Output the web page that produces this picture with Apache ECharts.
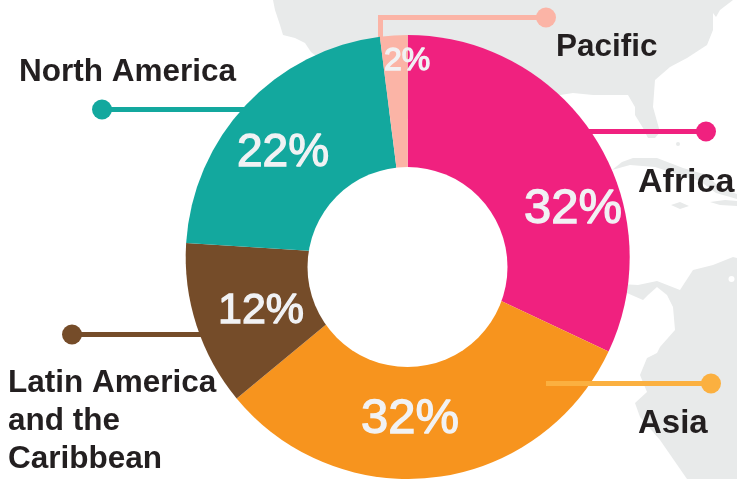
<!DOCTYPE html>
<html>
<head>
<meta charset="utf-8">
<title>Regions</title>
<script src="https://cdn.jsdelivr.net/npm/echarts@6/dist/echarts.min.js"></script>
<style>
  html, body { margin: 0; padding: 0; background: #fff; }
  #chart { width: 737px; height: 479px; }
</style>
</head>
<body>
<div id="chart"></div>
<script>
const categories = ['Africa', 'Asia', 'Latin America\nand the\nCaribbean', 'North America', 'Pacific'];
const shares = [32, 32, 12, 22, 2];

const sliceColors = ['#f0217f', '#f7941e', '#754c29', '#13a89e', '#fbb4a6'];
const lineColors = ['#f0217f', '#fbb040', '#754c29', '#13a89e', '#fbb4a6'];
const percentFontSizes = [49, 49, 43, 46, 32];
const percentCenters = [[573, 209], [410, 419], [261, 311], [283, 153], [407, 61]];
const nameFontSizes = [34, 33, 31.5, 31.5, 31.5];
const nameAnchors = [[638, 191], [638, 432], [8, 391], [19, 80], [556, 55]];
// leader lines, the dot sits on the last point
const leaders = [
  [[585, 131.5], [706, 131.5]],
  [[546, 383.5], [711, 383.5]],
  [[210, 334.5], [72, 334.5]],
  [[255, 109.5], [102, 109.5]],
  [[380.5, 40], [380.5, 17.5], [546, 17.5]]
];

// grey map behind the pie
const mapColor = '#e8eaea';
const landNorth = [[273, 0], [275, 10], [280, 25], [283, 35], [295, 38], [305, 43], [311, 52], [400, 120], [573, 93], [593, 95], [617, 95], [628, 95], [635, 107], [635, 115], [643, 128], [648, 138], [655, 138], [660, 132], [653, 107], [655, 80], [670, 67], [687, 58], [707, 45], [713, 30], [713, 13], [716, 17], [720, 10], [733, 0]];
const landSouth = [[620, 284], [638, 285], [657, 281], [680, 290], [693, 270], [713, 265], [733, 257], [737, 258], [737, 479], [687, 479], [660, 440], [640, 417], [635, 403], [647, 392], [640, 375], [647, 358], [657, 353], [660, 347], [675, 330], [673, 307], [667, 295], [657, 287], [648, 295], [643, 300], [620, 290]];
const landCuba = [[612, 170], [622, 162], [633, 158], [657, 158], [683, 168], [707, 175], [720, 188], [737, 194], [737, 199], [716, 193], [700, 181], [680, 175], [655, 167], [630, 165]];
const landIsland1 = [[671, 205], [680, 202], [689, 206], [680, 209]];
const landIsland2 = [[710, 202], [725, 200], [737, 201], [737, 206], [720, 205]];

const chart = echarts.init(document.getElementById('chart'));

const graphics = [];
[landNorth, landSouth, landCuba, landIsland1, landIsland2].forEach(function (points) {
  graphics.push({ type: 'polygon', z: 0, shape: { points: points }, style: { fill: mapColor } });
});
graphics.push({ type: 'circle', z: 1, shape: { cx: 731.5, cy: 279, r: 3 }, style: { fill: '#fff' } });
graphics.push({ type: 'circle', z: 0, shape: { cx: 678, cy: 144, r: 2 }, style: { fill: mapColor } });

// the hole sits a bit lower than the pie centre in the original
graphics.push({ type: 'circle', z: 5, shape: { cx: 407.5, cy: 267, r: 100 }, style: { fill: '#fff' } });

categories.forEach(function (name, i) {
  const points = leaders[i];
  const last = points[points.length - 1];
  // only the Asia line runs on top of its slice
  const z = i === 1 ? 6 : 1;
  graphics.push({ type: 'polyline', z: z, shape: { points: points }, style: { stroke: lineColors[i], lineWidth: 5, fill: null } });
  graphics.push({ type: 'circle', z: z, shape: { cx: last[0], cy: last[1], r: 10 }, style: { fill: lineColors[i] } });
  graphics.push({
    type: 'text',
    z: 6,
    x: nameAnchors[i][0],
    y: nameAnchors[i][1] - 27,
    style: {
      text: name,
      fill: '#231f20',
      font: 'bold ' + nameFontSizes[i] + 'px "Liberation Sans", Arial, sans-serif',
      lineHeight: 38
    }
  });
});

chart.setOption({
  animation: false,
  backgroundColor: '#fff',
  color: sliceColors,
  graphic: { elements: graphics },
  series: [
    {
      type: 'pie',
      center: [407.7, 257],
      radius: [0, 222],
      startAngle: 90,
      clockwise: true,
      silent: true,
      label: {
        show: true,
        position: 'inside',
        color: '#f1f2f4',
        fontFamily: '"Liberation Sans", Arial, sans-serif',
        textBorderColor: '#f1f2f4',
        textBorderWidth: 1.3,
        formatter: '{c}%'
      },
      labelLine: { show: false },
      labelLayout: function (params) {
        const c = percentCenters[params.dataIndex];
        return { x: c[0], y: c[1], align: 'center', verticalAlign: 'middle' };
      },
      data: shares.map(function (v, i) {
        return { name: categories[i], value: v, label: { fontSize: percentFontSizes[i] } };
      })
    }
  ]
});
</script>
</body>
</html>
